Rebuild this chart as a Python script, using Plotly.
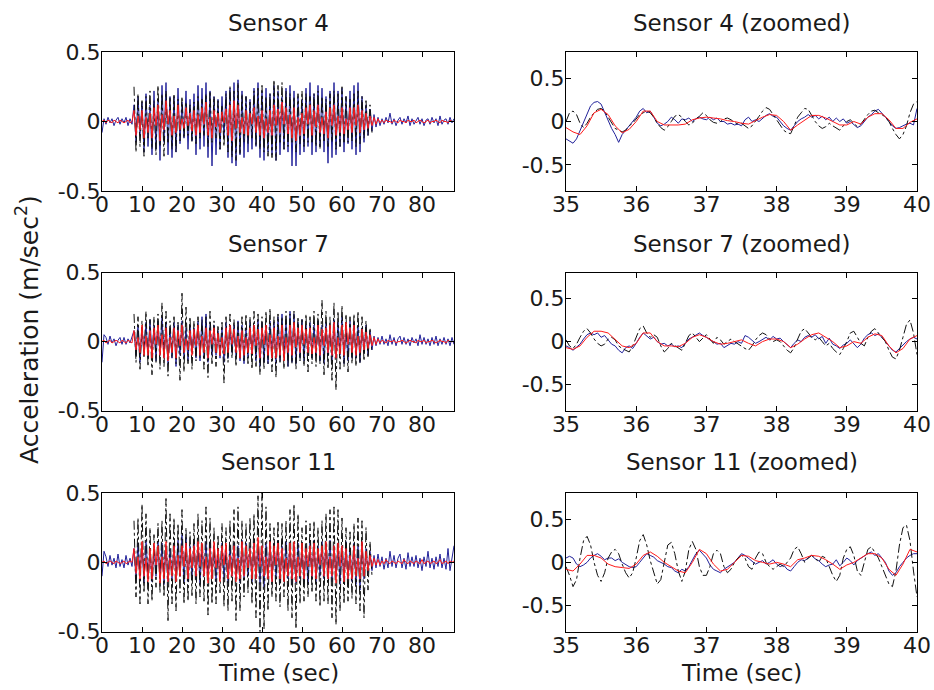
import plotly.graph_objects as go

# ---------------- data (values in hundredths of m/s^2) ----------------
FULL_STEP = 0.5          # sample step of the overview records (s)
BLACK_START = 8.0        # first sample time of the black record (s)
ZOOM_START = 35.0
ZOOM_STEP = 0.05
ZOOM_STEP_RED = 0.1

s4_blue = [-8,2,-2,3,-1,2,-3,1,3,-2,2,-1,3,-3,2,-2,
    12,-15,18,-10,14,-22,20,-18,12,-24, 22,-20,16,-28,26,-15,28,-24,18,-26,
    18,-22,24,-16,14,-12,22,-20,16,-14, 20,-24,26,-20,24,-18,28,-26,22,-32,
    18,-24,16,-20,18,-12,22,-26,24,-30, 28,-32,30,-24,22,-26,18,-22,16,-20,
    24,-18,28,-26,22,-28,24,-22,20,-24, 26,-28,22,-24,18,-20,24,-22,26,-32,
    22,-32,18,-24,16,-22,24,-18,28,-24, 20,-22,26,-18,24,-22,18,-30,22,-26,
    28,-24,22,-18,24,-22,18,-16,22,-20, 26,-24,28,-22,18,-15,12,-10,9,-7,
    5,-4,3,-3,2,-2,3,-1,6,-2,2,-3,1,3,-2,2,-1,4,-3,2,-2,1,3,-2,2,-3,1,2,-2,3,-1,2,-3,4,-2,1,2,-2,3,-1,2]
s4_black = [25,-22,20,-18,15,-25,18,-12,22,-20, 15,-24,26,-18,20,-25,22,-16,18,-20,
    20,-22,16,-14,18,-12,14,-10,12,-15, 14,-16,18,-12,16,-10,20,-18,22,-15,
    18,-12,15,-20,12,-18,20,-22,25,-26, 22,-28,28,-24,20,-15,18,-16,14,-12,
    22,-18,24,-20,26,-22,18,-25,20,-26, 30,-28,26,-15,28,-20,22,-18,20,-15,
    18,-22,20,-16,22,-18,20,-15,18,-16, 20,-18,22,-20,18,-14,16,-18,20,-15,
    22,-20,20,-18,25,-16,18,-15,16,-14, 20,-18,22,-16,18,-12,15,-10,12,-8]
s4_red = [0,1,-1,1,0,-1,1,0,-1,1,0,-1,0,1,-1,0,
    8,-10,4,-6,8,-12,3,-8,6,-12, 10,-3,12,-14,5,-6,15,-2,8,-10,
    4,-8,12,-6,2,-5,10,-3,6,-7, 8,-10,5,-8,10,-2,14,-10,3,-12,
    8,-4,6,-8,7,-1,9,-10,12,-14, 15,-5,12,-8,3,-9,8,-10,6,-2,
    10,-8,4,-10,8,-12,2,-8,8,-10, 12,-3,9,-8,14,-2,10,-9,5,-12,
    10,-14,3,-10,6,-9,10,-2,12,-10, 8,-4,12,-8,3,-9,7,-12,10,-3,
    12,-10,4,-8,10,-9,2,-6,10,-8, 10,-3,12,-8,8,-6,6,-5,4,-3,
    3,-2,2,-1,1,-1,1,0,0,-1,1,0,-1,1,0,0,-1,1,0,0,1,-1,0,1,0,-1,0,1,-1,0,0,1,0,-1,1,0,0,-1,1,0,0]

s7_blue = [-15,5,3,-2,4,-1,2,-3,1,3,-2,3,-2,2,-1,3,
    8,-10,12,-15,10,-8,14,-12,16,-10, 12,-14,15,-10,18,-12,14,-16,10,-12,
    14,-18,12,-10,15,-12,10,-14,12,-8, 10,-12,15,-14,18,-12,20,-15,12,-10,
    12,-10,8,-12,10,-15,14,-12,10,-8, 12,-10,15,-14,12,-16,10,-12,14,-10,
    12,-14,16,-18,14,-15,12,-16,15,-12, 14,-16,18,-14,20,-12,16,-18,22,-15,
    20,-16,14,-12,16,-14,12,-10,14,-12, 12,-10,15,-14,12,-16,14,-10,12,-14,
    16,-12,14,-10,18,-16,12,-14,15,-12, 14,-12,12,-15,10,-8,12,-10,8,-6,
    4,-3,3,-2,4,-2,2,-3,5,-2,3,-3,2,4,-2,3,-2,2,-3,3,-1,2,-3,5,-2,3,-2,2,-3,3,-2,4,-3,2,-2,3,-2,2,-3,3,-2]
s7_black = [20,-15,18,-20,15,-12,22,-18,16,-24, 18,-15,20,-20,28,-18,22,-25,15,-12,
    18,-16,14,-28,35,-22,25,-16,18,-20, 15,-14,18,-12,16,-20,18,-26,22,-16,
    15,-18,12,-10,14,-30,18,-15,20,-12, 16,-18,14,-12,18,-15,20,-16,18,-20,
    22,-18,20,-24,18,-20,22,-16,24,-22, 18,-26,20,-15,18,-20,22,-18,20,-16,
    22,-20,18,-14,16,-18,20,-22,18,-16, 22,-18,20,-16,30,-24,22,-20,18,-28,
    28,-35,22,-20,26,-18,20,-22,18,-16, 20,-18,22,-16,18,-14,15,-12,10,-8]
s7_red = [0,1,-1,0,1,-1,0,1,0,-1,1,0,-1,1,0,-1,
    8,-6,3,-8,12,-10,4,-10,8,-12, 10,-2,12,-10,5,-12,10,-14,3,-8,
    10,-12,8,-3,12,-8,2,-6,8,-10, 9,-3,12,-10,4,-8,10,-12,8,-2,
    10,-8,6,-10,3,-9,10,-8,12,-2, 9,-8,4,-12,8,-10,3,-8,10,-9,
    12,-3,9,-12,10,-2,12,-10,5,-12, 10,-12,4,-10,12,-14,3,-8,12,-10,
    14,-4,10,-8,12,-2,9,-8,10,-9, 3,-8,12,-10,9,-3,10,-8,12,-10,
    14,-12,3,-9,12,-10,14,-2,10,-8, 12,-10,4,-8,9,-6,7,-5,5,-3,
    3,-2,2,-1,1,0,-1,1,0,0,1,-1,0,0,1,0,-1,0,1,0,0,-1,1,0,0,1,-1,0,0,1,0,-1,0,1,0,0,-1,1,0,0,0]

s11_blue = [-10,8,4,-3,5,-2,3,-4,6,-3,2,-4,5,-2,3,-3,
    10,-12,14,-10,12,-15,16,-12,10,-14, 12,-10,15,-12,14,-16,12,-14,10,-12,
    14,-12,16,-10,20,-15,18,-14,12,-10, 15,-12,14,-16,12,-10,15,-12,14,-10,
    12,-14,10,-12,14,-12,10,-15,12,-10, 14,-12,12,-15,16,-12,14,-10,12,-14,
    15,-12,14,-16,12,-18,14,-12,16,-14, 14,-12,16,-15,12,-14,15,-12,14,-16,
    12,-15,14,-12,10,-14,12,-16,14,-12, 16,-14,12,-10,15,-12,14,-12,16,-14,
    12,-10,14,-16,12,-14,15,-12,10,-14, 14,-16,12,-20,15,-12,10,-8,8,-6,
    5,-4,6,-3,4,-5,3,-4,8,-3,5,-4,3,6,-4,3,-5,7,-3,4,-3,5,-4,3,-6,4,-3,8,-4,3,-5,4,-3,6,-4,3,-5,10,-6,4,12]
s11_black = [30,-25,32,-30,42,-22,35,-30,25,-28, 20,-18,28,-22,30,-25,46,-42,35,-30,
    32,-35,28,-22,38,-30,25,-28,22,-24, 28,-30,35,-25,30,-28,40,-38,32,-30,
    25,-30,20,-22,28,-32,25,-35,30,-28, 38,-42,40,-35,30,-25,28,-22,32,-30,
    35,-40,48,-50,50,-48,40,-35,28,-25, 25,-28,30,-32,28,-25,30,-35,38,-40,
    42,-48,35,-30,25,-28,30,-25,28,-22, 30,-28,25,-32,30,-28,35,-30,38,-40,
    40,-45,38,-35,32,-30,25,-28,22,-26, 28,-30,32,-35,30,-40,25,-20,15,-10]
s11_red = [0,1,-1,0,1,0,-1,1,0,-1,0,1,-1,0,1,0,
    10,-8,4,-12,15,-10,3,-14,10,-12, 14,-2,12,-15,4,-12,15,-14,3,-10,
    12,-14,5,-10,12,-3,14,-12,10,-4, 12,-10,15,-3,14,-10,4,-15,10,-12,
    15,-4,10,-14,12,-2,14,-12,5,-10, 12,-14,3,-12,15,-10,12,-4,10,-12,
    14,-12,18,-3,12,-10,4,-12,15,-14, 12,-2,14,-12,10,-14,3,-10,14,-12,
    15,-14,4,-10,14,-12,10,-3,12,-10, 14,-12,10,-2,12,-10,15,-12,4,-10,
    12,-15,14,-3,12,-14,10,-12,5,-12, 12,-10,3,-12,15,-10,8,-6,5,-3,
    3,-2,2,-2,1,-1,2,0,-1,1,0,-1,1,0,-1,2,0,-1,1,0,-1,1,0,-1,2,-1,0,1,-1,0,1,-1,0,2,-1,0,1,-1,1,0,1]

# zoomed records 35-40 s
z4_blue = [-20,-23,-25,-20,-10,0,10,18,22,23, 20,10,0,-8,-15,-24,-15,-10,-5,0,
    5,12,15,10,12,5,-2,-5,-3,0, 5,2,-2,3,2,4,0,3,5,3, 2,5,2,4,0,0,-3,-2,-4,-3,
    -5,2,5,0,2,0,4,7,9,6, 5,0,-5,-8,-10,-5,0,3,5,8, 5,7,3,6,2,5,0,4,0,3,
    -2,0,-3,-7,-5,0,5,8,12,14, 10,5,0,-5,-8,-7,-5,-3,-2,-4, 15]
z4_black = [0,10,12,8,-2,-7,-2,5,10,14, 15,12,5,-2,-8,-10,-12,-10,-5,-2,
    3,8,10,12,10,5,-2,-7,-10,-6, 0,6,8,5,0,-4,-2,3,6,10, 7,2,-1,-2,0,3,4,2,-1,-3,
    -2,-5,-8,-5,0,6,12,16,14,8, 2,-5,-10,-13,-14,-5,5,10,15,14, 7,0,-5,-8,-6,-2,-5,-8,-10,-5,
    0,2,-2,-6,-3,3,8,12,13,10, 8,5,0,-8,-15,-20,-15,-5,10,20, 23]
z4_red = [-7,-12,-15,-5,10,14,8,-5,-13,-9, 0,12,12,0,-4,-4,-4,-3,2,4,
    5,4,3,1,0,-2,-3,1,5,8, 7,0,-10,-4,2,7,7,4,0,-4, -4,0,-3,5,9,9,2,-8,-8,-1, 3]

z7_blue = [-5,-7,-10,-7,-3,3,8,10,8,10, 5,7,2,-3,-5,-10,-13,-7,-5,-8,
    -2,5,10,7,3,5,0,-3,-2,-5, -3,-6,-5,-7,-2,3,5,8,10,7, 5,2,0,-3,-2,-7,-4,-2,-3,0,
    -2,7,5,2,-2,0,3,5,2,6, 3,4,0,-3,-7,-2,2,0,5,7, 5,8,3,6,-2,4,-3,-5,-8,-4,
    -2,2,-3,-7,-3,4,8,10,7,9, 5,0,-5,-10,-12,-8,-3,0,3,5, 3]
z7_black = [2,-5,-8,-3,5,12,15,10,3,-2, -5,-3,3,5,2,-5,-8,-10,-12,-5,
    5,15,18,10,5,8,5,-5,-12,-8, -2,-5,-8,-10,-2,7,10,5,0,4, 8,3,-2,5,2,-3,0,3,0,-3,
    -5,-8,-10,-5,2,7,10,8,3,0, 2,0,-5,-10,-13,-7,3,12,15,10, 5,2,5,0,-5,-2,-8,-12,-15,-8,
    0,10,12,5,-2,-5,5,12,15,10, 5,0,-10,-18,-20,-10,5,20,25,10, -15]
z7_red = [-7,-9,-5,5,12,12,10,2,-5,-7, -2,10,10,0,-5,-5,-6,-2,5,8,
    5,0,-3,-2,0,2,-2,-5,0,3, 3,0,-7,-3,3,8,10,5,0,-7, -5,0,-2,5,9,7,-5,-13,-8,3, 7]

z11_blue = [5,7,5,-2,-5,-3,0,5,8,10, 7,3,5,5,2,4,0,-3,-5,-6,
    -5,0,5,10,8,6,2,0,-2,-5, -6,-10,-12,-8,-10,-5,3,10,14,10, 5,-3,-8,-10,-12,-8,-5,-3,0,5,
    10,8,5,2,-2,0,2,-2,0,3, -2,-5,-3,-8,-10,-5,0,3,2,5, 8,4,2,-2,-5,-3,-2,3,-4,0,
    5,2,-3,2,5,8,10,12,8,10, 5,0,-10,-15,-12,-5,0,5,8,10, 10]
z11_black = [-5,-15,-28,-20,5,25,30,20,0,-15, -22,-12,5,12,15,10,-2,-12,-18,-12,
    5,25,32,20,2,-12,-25,-20,0,20, 23,10,-10,-22,-10,15,24,15,-5,-15, -15,-5,10,14,10,-5,-12,-8,0,5,
    8,5,-5,-8,5,12,10,0,-5,-8, -5,-2,-5,0,5,15,18,10,0,5, 8,5,0,7,5,-5,-15,-22,-15,5,
    15,18,8,-10,-15,0,15,18,12,5, -5,-15,-25,-28,-10,20,40,43,25,-10, -40]
z11_red = [-8,-10,-2,8,8,5,-2,-5,-6,-7, -2,8,12,7,0,-5,-10,-12,0,15,
    10,-2,-10,-8,0,8,7,2,0,-2, 0,-2,-5,3,5,8,7,3,-2,-8, -3,0,5,10,10,5,-8,-15,-2,15, 12]

titles = ["Sensor 4", "Sensor 4 (zoomed)", "Sensor 7", "Sensor 7 (zoomed)",
          "Sensor 11", "Sensor 11 (zoomed)"]
y_tick_vals = [-0.5, 0, 0.5]
y_tick_text = ["-0.5", "0", "0.5"]
full_x_ticks = [0, 10, 20, 30, 40, 50, 60, 70, 80]
zoom_x_ticks = [35, 36, 37, 38, 39, 40]
y_label = "Acceleration (m/sec<sup>2</sup>)"
x_label = "Time (sec)"

# ---------------- figure ----------------
BLUE = "#22229a"
BLACK = "#111111"
RED = "#ff1a1a"
FONT = "DejaVu Sans"

def scale(v):
    return [a * 0.01 for a in v]

def times(start, step, n):
    return [start + step * i for i in range(n)]

fig = go.Figure()

full_sets = [(s4_blue, s4_black, s4_red), (s7_blue, s7_black, s7_red), (s11_blue, s11_black, s11_red)]
zoom_sets = [(z4_blue, z4_black, z4_red), (z7_blue, z7_black, z7_red), (z11_blue, z11_black, z11_red)]

for r in range(3):
    xa_full = "x" if r == 0 else f"x{2*r+1}"
    ya_full = "y" if r == 0 else f"y{2*r+1}"
    xa_zoom = f"x{2*r+2}"
    ya_zoom = f"y{2*r+2}"
    b, k, rd = full_sets[r]
    fig.add_trace(go.Scatter(x=times(0, FULL_STEP, len(b)), y=scale(b), mode="lines",
                             line=dict(color=BLUE, width=1), xaxis=xa_full, yaxis=ya_full))
    fig.add_trace(go.Scatter(x=times(BLACK_START, FULL_STEP, len(k)), y=scale(k), mode="lines",
                             line=dict(color=BLACK, width=1, dash="dashdot"), xaxis=xa_full, yaxis=ya_full))
    fig.add_trace(go.Scatter(x=times(0, FULL_STEP, len(rd)), y=scale(rd), mode="lines",
                             line=dict(color=RED, width=1), xaxis=xa_full, yaxis=ya_full))
    zb, zk, zr = zoom_sets[r]
    fig.add_trace(go.Scatter(x=times(ZOOM_START, ZOOM_STEP, len(zb)), y=scale(zb), mode="lines",
                             line=dict(color=BLUE, width=1), xaxis=xa_zoom, yaxis=ya_zoom))
    fig.add_trace(go.Scatter(x=times(ZOOM_START, ZOOM_STEP, len(zk)), y=scale(zk), mode="lines",
                             line=dict(color=BLACK, width=1, dash="dashdot"), xaxis=xa_zoom, yaxis=ya_zoom))
    fig.add_trace(go.Scatter(x=times(ZOOM_START, ZOOM_STEP_RED, len(zr)), y=scale(zr), mode="lines",
                             line=dict(color=RED, width=1), xaxis=xa_zoom, yaxis=ya_zoom))

W, H = 934, 690
left_dom = [102 / W, 454 / W]
right_dom = [566 / W, 917 / W]
row_px = [(52, 191), (272.5, 410.7), (493, 631.7)]

axis_common = dict(showline=True, linecolor="black", linewidth=1, mirror="ticks",
                   ticks="inside", ticklen=5, tickcolor="black", showgrid=False,
                   zeroline=False, automargin=False,
                   tickfont=dict(family=FONT, size=22, color="#1a1a1a"))
x_extra = dict(ticklabelstandoff=-6)
y_extra = dict(ticklabelstandoff=-4)

layout = dict(width=W, height=H, margin=dict(l=0, r=0, t=0, b=0, pad=0, autoexpand=False),
              paper_bgcolor="white", plot_bgcolor="white", showlegend=False)

for r, (top, bot) in enumerate(row_px):
    ydom = [1 - bot / H, 1 - top / H]
    ifull = 2 * r + 1
    izoom = 2 * r + 2
    kx_full = "xaxis" if ifull == 1 else f"xaxis{ifull}"
    ky_full = "yaxis" if ifull == 1 else f"yaxis{ifull}"
    yname_full = "y" if ifull == 1 else f"y{ifull}"
    xname_full = "x" if ifull == 1 else f"x{ifull}"
    layout[kx_full] = dict(axis_common, **x_extra, domain=left_dom, range=[0, 88],
                           tickvals=full_x_ticks, anchor=yname_full)
    layout[ky_full] = dict(axis_common, **y_extra, domain=ydom, range=[-0.5, 0.5],
                           tickvals=y_tick_vals, ticktext=y_tick_text, anchor=xname_full)
    layout[f"xaxis{izoom}"] = dict(axis_common, **x_extra, domain=right_dom, range=[35, 40],
                                   tickvals=zoom_x_ticks, anchor=f"y{izoom}")
    layout[f"yaxis{izoom}"] = dict(axis_common, **y_extra, domain=ydom, range=[-0.8, 0.8],
                                   tickvals=y_tick_vals, ticktext=y_tick_text, anchor=f"x{izoom}")

fig.update_layout(**layout)

title_y = [23, 244, 462]
ann = []
for r in range(3):
    ann.append(dict(text=titles[2 * r], x=(left_dom[0] + left_dom[1]) / 2, y=1 - title_y[r] / H,
                    xref="paper", yref="paper", showarrow=False, xanchor="center", yanchor="middle",
                    font=dict(family=FONT, size=23, color="#1a1a1a")))
    ann.append(dict(text=titles[2 * r + 1], x=(right_dom[0] + right_dom[1]) / 2, y=1 - title_y[r] / H,
                    xref="paper", yref="paper", showarrow=False, xanchor="center", yanchor="middle",
                    font=dict(family=FONT, size=23, color="#1a1a1a")))
for dom in (left_dom, right_dom):
    ann.append(dict(text=x_label, x=(dom[0] + dom[1]) / 2, y=1 - 673 / H, xref="paper", yref="paper",
                    showarrow=False, xanchor="center", yanchor="middle",
                    font=dict(family=FONT, size=23, color="#1a1a1a")))
ann.append(dict(text=y_label, x=27 / W, y=1 - 330 / H, xref="paper", yref="paper", showarrow=False,
                textangle=-90, xanchor="center", yanchor="middle",
                font=dict(family=FONT, size=25, color="#1a1a1a")))
fig.update_layout(annotations=ann)

fig.write_html("out.html")
